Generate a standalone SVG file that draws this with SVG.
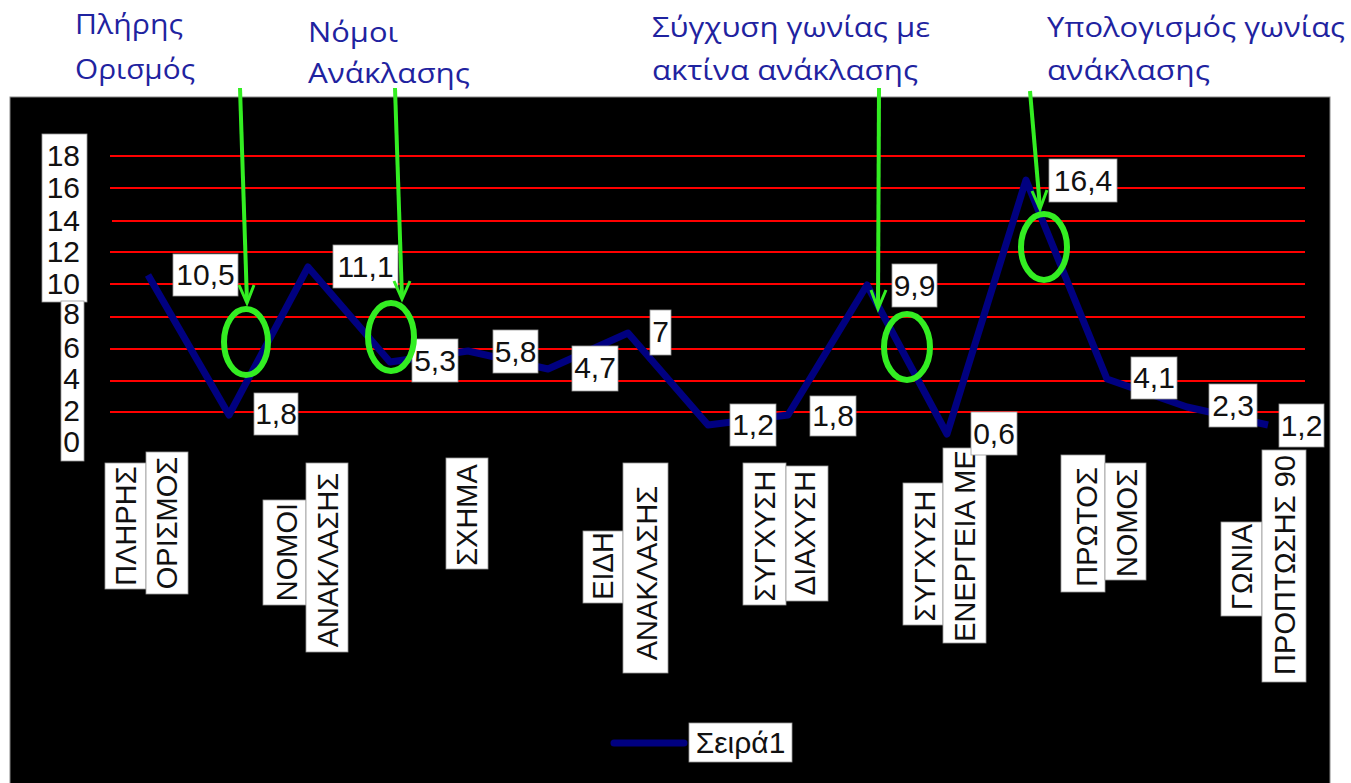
<svg xmlns="http://www.w3.org/2000/svg" width="1351" height="783" viewBox="0 0 1351 783">
<style>
.ttl{font-family:"Open Sans","Noto Sans",sans-serif;font-size:27px;fill:#1f23a0}
.lbl{font-family:"Liberation Sans",Arial,sans-serif;font-size:30px;fill:#111;text-anchor:middle}
.ax{font-family:"Liberation Sans",Arial,sans-serif;font-size:30px;fill:#111;text-anchor:end}
.cat{font-family:"Liberation Sans",Arial,sans-serif;font-size:29px;fill:#111;text-anchor:middle}
.box{fill:#fff;stroke:#999;stroke-width:0.8}
.grid{stroke:#f00;stroke-width:2}
.grn{stroke:#33ee22;fill:none}
</style>
<rect width="1351" height="783" fill="#fff"/>
<g id="titles">
<text class="ttl" x="75" y="34" textLength="108" lengthAdjust="spacingAndGlyphs">Πλήρης</text>
<text class="ttl" x="75" y="79" textLength="120" lengthAdjust="spacingAndGlyphs">Ορισμός</text>
<text class="ttl" x="308" y="42" textLength="90" lengthAdjust="spacingAndGlyphs">Νόμοι</text>
<text class="ttl" x="308" y="83" textLength="162" lengthAdjust="spacingAndGlyphs">Ανάκλασης</text>
<text class="ttl" x="652" y="37" textLength="278" lengthAdjust="spacingAndGlyphs">Σύγχυση γωνίας με</text>
<text class="ttl" x="652" y="80" textLength="266" lengthAdjust="spacingAndGlyphs">ακτίνα ανάκλασης</text>
<text class="ttl" x="1047" y="37" textLength="298" lengthAdjust="spacingAndGlyphs">Υπολογισμός γωνίας</text>
<text class="ttl" x="1047" y="80" textLength="163" lengthAdjust="spacingAndGlyphs">ανάκλασης</text>
</g>
<g id="chart-area">
<rect x="10" y="97" width="1320" height="690" fill="#000" stroke="#888" stroke-width="1"/>
</g>
<g id="gridlines">
<line class="grid" x1="110" y1="156" x2="1305" y2="156"/>
<line class="grid" x1="110" y1="188" x2="1305" y2="188"/>
<line class="grid" x1="112" y1="221" x2="1305" y2="221"/>
<line class="grid" x1="110" y1="252" x2="1305" y2="252"/>
<line class="grid" x1="110" y1="284" x2="1305" y2="284"/>
<line class="grid" x1="110" y1="317" x2="1305" y2="317"/>
<line class="grid" x1="110" y1="349" x2="1305" y2="349"/>
<line class="grid" x1="110" y1="381" x2="1305" y2="381"/>
<line class="grid" x1="110" y1="412" x2="1305" y2="412"/>
</g>
<g id="y-axis">
<rect class="box" x="42" y="134" width="45" height="168"/>
<rect class="box" x="61" y="301" width="23" height="160"/>
<text class="ax" x="80" y="166">18</text>
<text class="ax" x="80" y="198">16</text>
<text class="ax" x="80" y="231">14</text>
<text class="ax" x="80" y="262">12</text>
<text class="ax" x="80" y="294">10</text>
<text class="ax" x="80" y="324">8</text>
<text class="ax" x="80" y="358">6</text>
<text class="ax" x="80" y="389">4</text>
<text class="ax" x="80" y="421">2</text>
<text class="ax" x="80" y="452">0</text>
</g>
<g id="series">
<polyline points="148,275 229,415 308,267 390,362 468,351 548,369 628,333 708,425 788,415 867,285 947,434 1026,180 1107,379 1187,407 1268,425" fill="none" stroke="#000080" stroke-width="7" stroke-linejoin="round"/>
</g>
<g id="data-labels">
<rect class="box" x="173" y="254" width="65" height="42"/><text class="lbl" x="205.5" y="285">10,5</text>
<rect class="box" x="254" y="393" width="44" height="42"/><text class="lbl" x="276" y="424">1,8</text>
<rect class="box" x="333" y="245" width="65" height="43"/><text class="lbl" x="365.5" y="277">11,1</text>
<rect class="box" x="412" y="339" width="46" height="43"/><text class="lbl" x="435" y="371">5,3</text>
<rect class="box" x="493" y="330" width="45" height="43"/><text class="lbl" x="515.5" y="362">5,8</text>
<rect class="box" x="572" y="346" width="46" height="45"/><text class="lbl" x="595" y="378">4,7</text>
<rect class="box" x="650" y="310" width="21" height="45"/><text class="lbl" x="660.5" y="342">7</text>
<rect class="box" x="730" y="404" width="46" height="42"/><text class="lbl" x="753" y="435">1,2</text>
<rect class="box" x="810" y="396" width="46" height="40"/><text class="lbl" x="833" y="426">1,8</text>
<rect class="box" x="892" y="264" width="45" height="43"/><text class="lbl" x="914.5" y="296">9,9</text>
<rect class="box" x="1049" y="159" width="68" height="43"/><text class="lbl" x="1083" y="191">16,4</text>
<rect class="box" x="1131" y="357" width="46" height="42"/><text class="lbl" x="1154" y="388">4,1</text>
<rect class="box" x="1209" y="384" width="48" height="43"/><text class="lbl" x="1233" y="416">2,3</text>
<rect class="box" x="1279" y="404" width="45" height="43"/><text class="lbl" x="1301.5" y="436">1,2</text>
</g>
<g id="categories">
<rect class="box" x="105" y="463" width="41" height="126"/>
<text class="cat" transform="translate(136,526) rotate(-90)">ΠΛΗΡΗΣ</text>
<rect class="box" x="146" y="452" width="42" height="142"/>
<text class="cat" transform="translate(177,523) rotate(-90)">ΟΡΙΣΜΟΣ</text>
<rect class="box" x="263" y="500" width="43" height="105"/>
<text class="cat" transform="translate(297,552) rotate(-90)">ΝΟΜΟΙ</text>
<rect class="box" x="306" y="463" width="42" height="189"/>
<text class="cat" transform="translate(338,560) rotate(-90)">ΑΝΑΚΛΑΣΗΣ</text>
<rect class="box" x="446" y="458" width="42" height="111"/>
<text class="cat" transform="translate(477,515) rotate(-90)">ΣΧΗΜΑ</text>
<rect class="box" x="583" y="531" width="40" height="72"/>
<text class="cat" transform="translate(613,566) rotate(-90)">ΕΙΔΗ</text>
<rect class="box" x="623" y="463" width="45" height="210"/>
<text class="cat" transform="translate(657,573) rotate(-90)">ΑΝΑΚΛΑΣΗΣ</text>
<rect class="box" x="743" y="463" width="43" height="142"/>
<text class="cat" transform="translate(775,536) rotate(-90)">ΣΥΓΧΥΣΗ</text>
<rect class="box" x="786" y="466" width="42" height="135"/>
<text class="cat" transform="translate(815,533) rotate(-90)">ΔΙΑΧΥΣΗ</text>
<rect class="box" x="903" y="483" width="40" height="142"/>
<text class="cat" transform="translate(935,556) rotate(-90)">ΣΥΓΧΥΣΗ</text>
<rect class="box" x="943" y="448" width="43" height="195"/>
<text class="cat" transform="translate(975,546) rotate(-90)">ΕΝΕΡΓΕΙΑ ΜΕ</text>
<rect class="box" x="1061" y="455" width="44" height="137"/>
<text class="cat" transform="translate(1097,527) rotate(-90)">ΠΡΩΤΟΣ</text>
<rect class="box" x="1105" y="463" width="41" height="117"/>
<text class="cat" transform="translate(1137,523) rotate(-90)">ΝΟΜΟΣ</text>
<rect class="box" x="1221" y="522" width="41" height="94"/>
<text class="cat" transform="translate(1252,567) rotate(-90)">ΓΩΝΙΑ</text>
<rect class="box" x="1262" y="450" width="44" height="232"/>
<text class="cat" transform="translate(1295,565) rotate(-90)">ΠΡΟΠΤΩΣΗΣ 90</text>
</g>
<g id="label-0-6">
<rect class="box" x="971" y="412" width="46" height="43"/><text class="lbl" x="994" y="444">0,6</text>
</g>
<g id="legend">
<line x1="614" y1="743" x2="684" y2="743" stroke="#000080" stroke-width="7" stroke-linecap="round"/>
<rect class="box" x="689" y="723" width="103" height="39"/>
<text class="lbl" x="740.5" y="753">Σειρά1</text>
</g>
<g id="annotations">
<line class="grn" stroke-width="4" x1="240" y1="88" x2="247" y2="302"/>
<polyline class="grn" stroke-width="3" points="239,285 247,303 254,285"/>
<ellipse class="grn" stroke-width="6" cx="246" cy="342" rx="22" ry="33"/>
<line class="grn" stroke-width="4" x1="395" y1="88" x2="402" y2="298"/>
<polyline class="grn" stroke-width="3" points="394,281 402,299 410,281"/>
<ellipse class="grn" stroke-width="6" cx="391" cy="337" rx="23" ry="34"/>
<line class="grn" stroke-width="4" x1="879" y1="88" x2="878" y2="308"/>
<polyline class="grn" stroke-width="3" points="871,290 878,309 886,290"/>
<ellipse class="grn" stroke-width="6" cx="907" cy="347" rx="23" ry="33"/>
<line class="grn" stroke-width="4" x1="1030" y1="91" x2="1040" y2="208"/>
<polyline class="grn" stroke-width="3" points="1032,191 1040,209 1047,190"/>
<ellipse class="grn" stroke-width="6" cx="1044" cy="247" rx="23" ry="33"/>
</g>
</svg>
